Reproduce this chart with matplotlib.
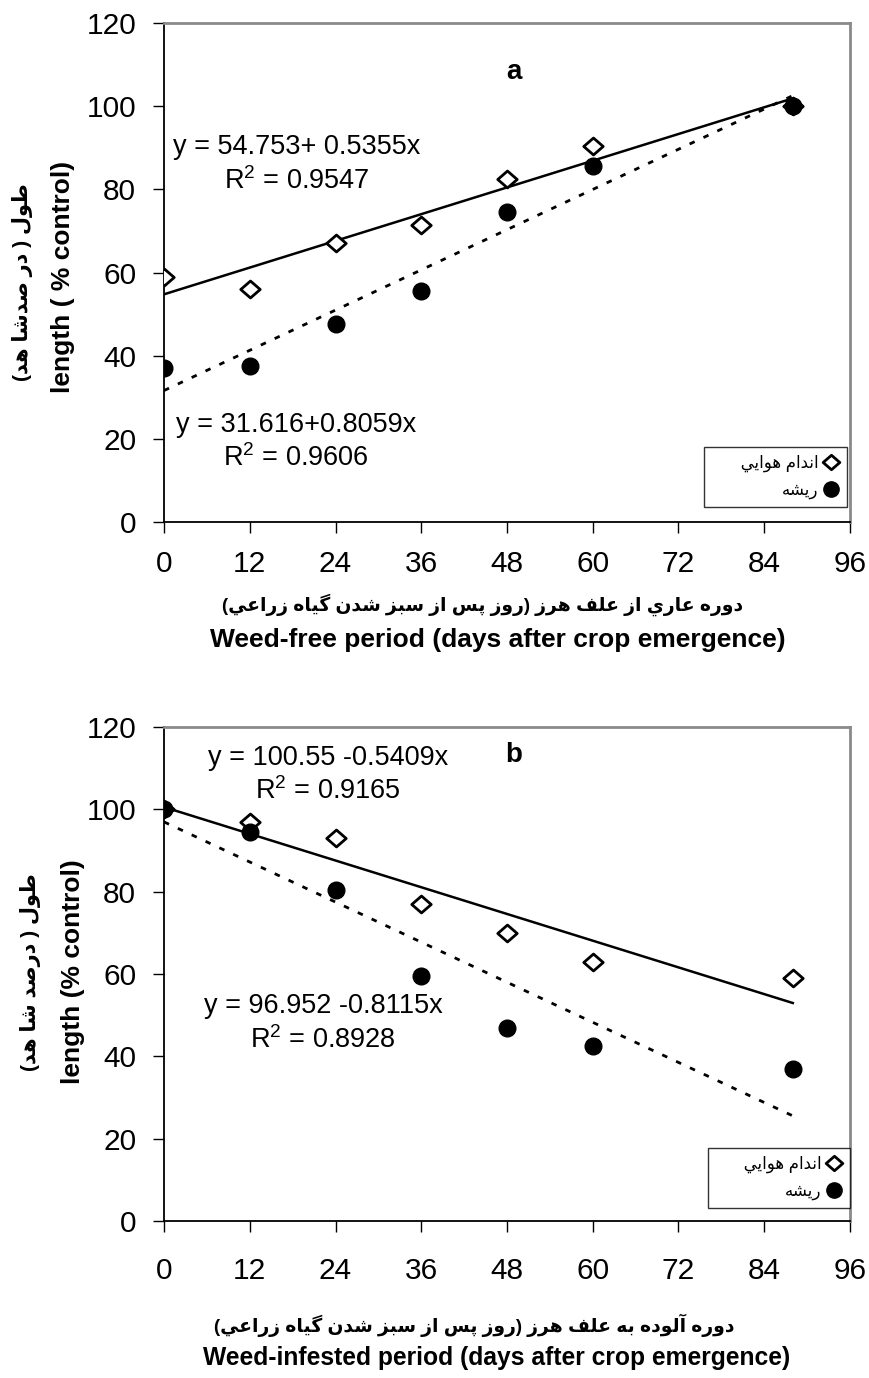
import numpy as np
import matplotlib
matplotlib.use('Agg')
import matplotlib.pyplot as plt
from matplotlib.lines import Line2D
from matplotlib.path import Path

# ---- data ----
days = [0, 12, 24, 36, 48, 60, 88]
free_shoot = [59, 56, 67, 71.5, 82.5, 90.5, 100]
free_root = [37, 37.5, 47.5, 55.5, 74.5, 85.5, 100]
inf_shoot = [100, 97, 93, 77, 70, 63, 59]
inf_root = [100, 94.5, 80.5, 59.5, 47, 42.5, 37]

# trend lines (intercept, slope) and their labels
free_shoot_fit = (54.753, 0.5355)
free_root_fit = (31.616, 0.8059)
inf_shoot_fit = (100.55, -0.5409)
inf_root_fit = (96.952, -0.8115)
free_shoot_eq = 'y = 54.753+ 0.5355x\n$\\mathregular{R^2}$ = 0.9547'
free_root_eq = 'y = 31.616+0.8059x\n$\\mathregular{R^2}$ = 0.9606'
inf_shoot_eq = 'y = 100.55 -0.5409x\n$\\mathregular{R^2}$ = 0.9165'
inf_root_eq = 'y = 96.952 -0.8115x\n$\\mathregular{R^2}$ = 0.8928'

x_ticks = [0, 12, 24, 36, 48, 60, 72, 84, 96]
y_ticks = [0, 20, 40, 60, 80, 100, 120]

# ---- simple arabic shaping (matplotlib has no complex text layout) ----
FORMS = {
    'ا': ('\uFE8D', '\uFE8E', None, None),
    'آ': ('\uFE81', '\uFE82', None, None),
    'ب': ('\uFE8F', '\uFE90', '\uFE91', '\uFE92'),
    'پ': ('\uFB56', '\uFB57', '\uFB58', '\uFB59'),
    'ت': ('\uFE95', '\uFE96', '\uFE97', '\uFE98'),
    'د': ('\uFEA9', '\uFEAA', None, None),
    'ر': ('\uFEAD', '\uFEAE', None, None),
    'ز': ('\uFEAF', '\uFEB0', None, None),
    'س': ('\uFEB1', '\uFEB2', '\uFEB3', '\uFEB4'),
    'ش': ('\uFEB5', '\uFEB6', '\uFEB7', '\uFEB8'),
    'ص': ('\uFEB9', '\uFEBA', '\uFEBB', '\uFEBC'),
    'ط': ('\uFEC1', '\uFEC2', '\uFEC3', '\uFEC4'),
    'ع': ('\uFEC9', '\uFECA', '\uFECB', '\uFECC'),
    'ف': ('\uFED1', '\uFED2', '\uFED3', '\uFED4'),
    'ل': ('\uFEDD', '\uFEDE', '\uFEDF', '\uFEE0'),
    'م': ('\uFEE1', '\uFEE2', '\uFEE3', '\uFEE4'),
    'ن': ('\uFEE5', '\uFEE6', '\uFEE7', '\uFEE8'),
    'ه': ('\uFEE9', '\uFEEA', '\uFEEB', '\uFEEC'),
    'و': ('\uFEED', '\uFEEE', None, None),
    'ي': ('\uFEF1', '\uFEF2', '\uFEF3', '\uFEF4'),
    'گ': ('\uFB92', '\uFB93', '\uFB94', '\uFB95'),
}


def fa(text):
    out = []
    for i, ch in enumerate(text):
        if ch not in FORMS:
            out.append(ch)
            continue
        iso, fin, ini, med = FORMS[ch]
        prev = text[i - 1] if i > 0 else None
        nxt = text[i + 1] if i < len(text) - 1 else None
        jp = prev in FORMS and FORMS[prev][2] is not None
        jn = nxt in FORMS and ini is not None
        if jp and jn:
            out.append(med)
        elif jp:
            out.append(fin)
        elif jn:
            out.append(ini)
        else:
            out.append(iso)
    s = ''.join(out)[::-1]
    return s.translate(str.maketrans('()', ')('))


FAM = ['Liberation Sans', 'DejaVu Sans']
plt.rcParams['font.family'] = FAM
plt.rcParams['mathtext.fontset'] = 'custom'
plt.rcParams['mathtext.rm'] = 'Liberation Sans'

# wide diamond like the excel marker
DIAMOND = Path([(-1.15, 0), (0, 1), (1.15, 0), (0, -1), (-1.15, 0)],
               [Path.MOVETO, Path.LINETO, Path.LINETO, Path.LINETO, Path.CLOSEPOLY])

W, H = 869, 1378
fig = plt.figure(figsize=(W / 100, H / 100), dpi=100)

shoot_lbl = '      ' + fa('اندام هوايي')
root_lbl = fa('ريشه')


def panel(rect, shoot, root, sfit, rfit, seq, req, seq_pos, req_pos, letter, let_pos,
          leg_anchor, xpad):
    ax = fig.add_axes(rect)
    xs = np.array([days[0], days[-1]])
    ax.plot(xs, sfit[0] + sfit[1] * xs, color='black', lw=1.8, zorder=2)
    ax.plot(xs, rfit[0] + rfit[1] * xs, color='black', lw=2, ls=(0, (2, 3.5)), zorder=2)
    ax.plot(days, shoot, ls='none', marker=DIAMOND, ms=14, mfc='white', mec='black',
            mew=2, zorder=3)
    ax.plot(days, root, ls='none', marker='o', ms=12, mfc='black', mec='black', zorder=4)
    ax.set_xlim(0, 96)
    ax.set_ylim(0, 120)
    ax.set_xticks(x_ticks)
    ax.set_yticks(y_ticks)
    ax.tick_params(direction='out', length=8, width=1, labelsize=21.5)
    ax.tick_params(axis='x', pad=xpad)
    ax.tick_params(axis='y', pad=12)
    for s in ['left', 'bottom']:
        ax.spines[s].set_color('black')
        ax.spines[s].set_linewidth(1.3)
    for s in ['top', 'right']:
        ax.spines[s].set_color('#8a8a8a')
        ax.spines[s].set_linewidth(2)
    ax.text(seq_pos[0], seq_pos[1], seq, ha='center', va='center', fontsize=19.5,
            linespacing=1.3)
    ax.text(req_pos[0], req_pos[1], req, ha='center', va='center', fontsize=19.5,
            linespacing=1.3)
    ax.text(let_pos[0], let_pos[1], letter, ha='center', va='center', fontsize=20,
            fontweight='bold')
    handles = [
        Line2D([], [], ls='none', marker=DIAMOND, ms=12, mfc='white', mec='black', mew=2),
        Line2D([], [], ls='none', marker='o', ms=11, mfc='black', mec='black'),
    ]
    leg = ax.legend(handles, [shoot_lbl, root_lbl], loc='lower right',
                    bbox_to_anchor=leg_anchor, borderaxespad=0, markerfirst=False,
                    fontsize=12, frameon=True, fancybox=False, handlelength=0.9,
                    handletextpad=0.3, labelspacing=0.6, borderpad=0.5)
    leg.get_frame().set_edgecolor('black')
    leg.get_frame().set_linewidth(1)
    return ax


ax1 = panel([164 / W, 1 - 522 / H, 686 / W, 499 / H], free_shoot, free_root,
            free_shoot_fit, free_root_fit, free_shoot_eq, free_root_eq,
            (18.6, 86), (18.5, 19.2), 'a', (49, 108.2), (0.995, 0.03), 12)
ax2 = panel([164 / W, 1 - 1221 / H, 686 / W, 494 / H], inf_shoot, inf_root,
            inf_shoot_fit, inf_root_fit, inf_shoot_eq, inf_root_eq,
            (23, 108.3), (22.3, 48), 'b', (49, 113.2), (1.0, 0.026), 18)

# axis titles
fig.text(483 / W, 1 - 605 / H, fa('دوره عاري از علف هرز (روز پس از سبز شدن گياه زراعي)'),
         ha='center', va='center', fontsize=13.5, fontweight='bold')
fig.text(498 / W, 1 - 640 / H, 'Weed-free period (days after crop emergence)',
         ha='center', va='center', fontsize=19, fontweight='bold')
fig.text(474 / W, 1 - 1325 / H, fa('دوره آلوده به علف هرز (روز پس از سبز شدن گياه زراعي)'),
         ha='center', va='center', fontsize=13.5, fontweight='bold')
fig.text(497 / W, 1 - 1358 / H, 'Weed-infested period (days after crop emergence)',
         ha='center', va='center', fontsize=17.7, fontweight='bold')

fig.text(23 / W, 1 - 282 / H, fa('طول ( در صدشا هد)'), rotation=90,
         ha='center', va='center', fontsize=15, fontweight='bold')
fig.text(63 / W, 1 - 277 / H, 'length ( % control)', rotation=90,
         ha='center', va='center', fontsize=19, fontweight='bold')
fig.text(31 / W, 1 - 972 / H, fa('طول ( درصد شا هد)'), rotation=90,
         ha='center', va='center', fontsize=15, fontweight='bold')
fig.text(73 / W, 1 - 972 / H, 'length (% control)', rotation=90,
         ha='center', va='center', fontsize=19, fontweight='bold')

fig.savefig('out.png', dpi=100)
